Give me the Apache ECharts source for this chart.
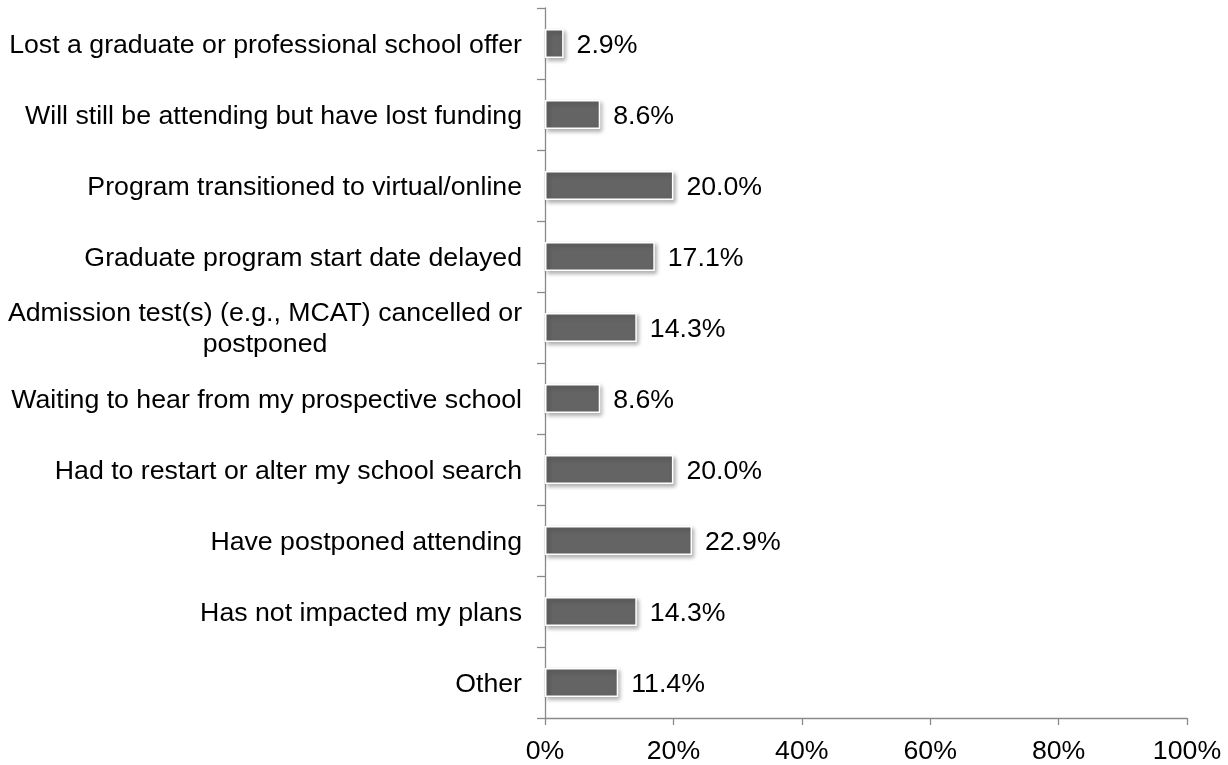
<!DOCTYPE html>
<html>
<head>
<meta charset="utf-8">
<script src="https://cdn.jsdelivr.net/npm/echarts@6/dist/echarts.min.js"></script>
<style>
html,body{margin:0;padding:0;background:#fff;}
#chart{width:1228px;height:765px;}
</style>
</head>
<body>
<div id="chart"></div>
<script>
const categories = [
  "Lost a graduate or professional school offer",
  "Will still be attending but have lost funding",
  "Program transitioned to virtual/online",
  "Graduate program start date delayed",
  "Admission test(s) (e.g., MCAT) cancelled or\npostponed",
  "Waiting to hear from my prospective school",
  "Had to restart or alter my school search",
  "Have postponed attending",
  "Has not impacted my plans",
  "Other"
];
const values = [2.9, 8.6, 20.0, 17.1, 14.3, 8.6, 20.0, 22.9, 14.3, 11.4];
const xTicks = [0, 20, 40, 60, 80, 100];

const FONT = "'Liberation Sans', Arial, sans-serif";
const FS = 26.7;
const axisColor = '#8a8a8a';

const chart = echarts.init(document.getElementById('chart'));
chart.setOption({
  animation: false,
  grid: { left: 545, right: 41, top: 8, bottom: 44, containLabel: false },
  xAxis: {
    type: 'value',
    min: xTicks[0],
    max: xTicks[xTicks.length - 1],
    interval: xTicks[1] - xTicks[0],
    axisLine: { show: true, lineStyle: { color: axisColor, width: 1.3 } },
    axisTick: { show: true, length: 7, lineStyle: { color: axisColor, width: 1.3 } },
    splitLine: { show: false },
    axisLabel: {
      formatter: '{value}%',
      color: '#000',
      fontFamily: FONT,
      fontSize: FS,
      margin: 20
    }
  },
  yAxis: {
    type: 'category',
    data: categories,
    inverse: true,
    axisLine: { show: true, lineStyle: { color: axisColor, width: 1.3 } },
    axisTick: { show: true, length: 8, alignWithLabel: false, lineStyle: { color: axisColor, width: 1.3 } },
    axisLabel: {
      color: '#000',
      fontFamily: FONT,
      fontSize: FS,
      margin: 23,
      lineHeight: 31,
      padding: [4, 0, 0, 0],
      formatter: function (v) {
        if (v.indexOf('\n') >= 0) {
          return v.split('\n').map(s => '{c|' + s + '}').join('\n');
        }
        return v;
      },
      rich: {
        c: { width: 514, align: 'center', fontFamily: FONT, fontSize: FS, color: '#000', lineHeight: 31 }
      }
    }
  },
  series: [{
    type: 'bar',
    data: values,
    barWidth: 29,
    itemStyle: {
      color: '#646464',
      borderColor: '#ffffff',
      borderWidth: 1.5,
      shadowColor: 'rgba(0,0,0,0.3)',
      shadowBlur: 4,
      shadowOffsetX: 2,
      shadowOffsetY: 2.5
    },
    label: {
      show: true,
      position: 'right',
      distance: 13,
      offset: [0, 2],
      color: '#000',
      fontFamily: FONT,
      fontSize: FS,
      formatter: p => p.value.toFixed(1) + '%'
    }
  }]
});
</script>
</body>
</html>
